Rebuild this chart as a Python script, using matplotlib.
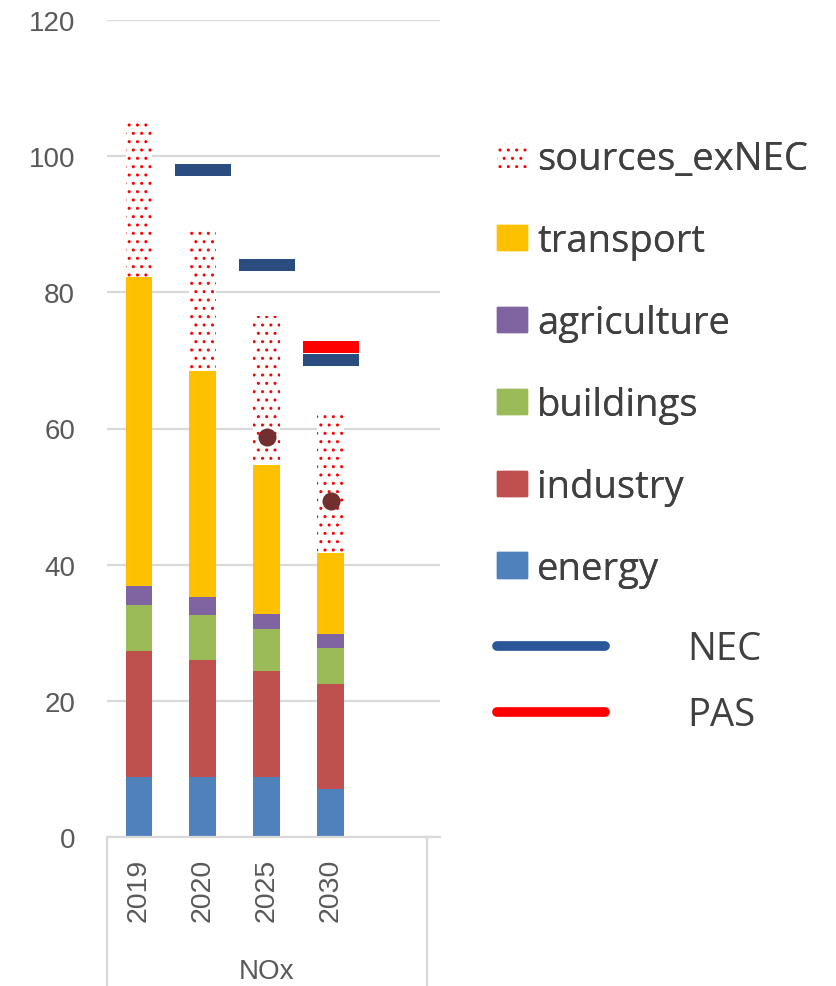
import matplotlib.pyplot as plt
from matplotlib.lines import Line2D
from matplotlib.patches import Patch
from matplotlib.path import Path
import numpy as np

years = ['2019', '2020', '2025', '2030']
energy = [8.8, 8.8, 8.8, 7.0]
industry = [18.5, 17.2, 15.6, 15.4]
buildings = [6.8, 6.6, 6.1, 5.4]
agriculture = [2.8, 2.7, 2.3, 2.0]
transport = [45.3, 33.1, 21.9, 11.9]
sources_exNEC = [22.8, 20.8, 21.8, 20.4]
nec = [np.nan, 98, 84, 70]
pas = [np.nan, np.nan, np.nan, 72]
dots = [np.nan, np.nan, 58.7, 49.3]

grey = '#595959'
grid_c = '#D9D9D9'
plt.rcParams['hatch.linewidth'] = 1.0

fig = plt.figure(figsize=(8.36, 9.87), dpi=100)
ax = fig.add_axes([107 / 836, 149 / 987, 333 / 836, 817 / 987])

x = np.arange(len(years))
w = 0.42
bottom = np.zeros(len(years))
series = [
    (energy, '#4F81BD'),
    (industry, '#C0504D'),
    (buildings, '#9BBB59'),
    (agriculture, '#8064A2'),
    (transport, '#FFC000'),
]
for vals, col in series:
    ax.bar(x, vals, w, bottom=bottom, color=col, zorder=2)
    bottom += np.array(vals)
ax.bar(x, sources_exNEC, w, bottom=bottom, facecolor='white', edgecolor='red',
       hatch='..', linewidth=0, zorder=2)

# dash markers for targets
dash = Path([(-0.5, -0.11), (0.5, -0.11), (0.5, 0.11), (-0.5, 0.11), (-0.5, -0.11)],
            [Path.MOVETO, Path.LINETO, Path.LINETO, Path.LINETO, Path.CLOSEPOLY])
ax.plot(x, nec, linestyle='none', marker=dash, markersize=40,
        color='#2B4C7E', markeredgewidth=0, zorder=4)
ax.plot(x, pas, linestyle='none', marker=dash, markersize=40,
        color='#FF0000', markeredgewidth=0, zorder=5)
ax.plot(x, dots, linestyle='none', marker='o', markersize=13,
        color='#722F2F', markeredgewidth=0, zorder=5)

ax.set_ylim(0, 120)
ax.set_xlim(-0.5, 4.71)
ax.set_yticks(range(0, 121, 20))
ax.yaxis.grid(True, color=grid_c, linewidth=1.6, zorder=0)
ax.set_axisbelow(True)
for s in ['top', 'right', 'left']:
    ax.spines[s].set_visible(False)
ax.spines['bottom'].set_color(grid_c)
ax.spines['bottom'].set_linewidth(1.6)

ax.set_xticks(x)
ax.set_xticklabels(years, rotation=90)
ax.tick_params(axis='x', length=0, pad=15, labelsize=20.5, labelcolor=grey)
ax.tick_params(axis='y', length=0, pad=23, labelsize=20, labelcolor=grey)
for lab in ax.get_xticklabels() + ax.get_yticklabels():
    lab.set_family('Liberation Sans')

# category box below the axis
tr = ax.get_xaxis_transform()
for xv in [-0.5, 4.5]:
    ax.plot([xv, xv], [0, -0.19], color=grid_c, linewidth=1.6, transform=tr, clip_on=False)
ax.text(2, -0.164, 'NOx', transform=tr, ha='center', va='center',
        fontsize=20, color=grey, family='Liberation Sans')

# legends
patch_handles = [
    Patch(facecolor='white', edgecolor='red', hatch='..', linewidth=0),
    Patch(color='#FFC000'),
    Patch(color='#8064A2'),
    Patch(color='#9BBB59'),
    Patch(color='#C0504D'),
    Patch(color='#4F81BD'),
]
patch_labels = ['sources_exNEC', 'transport', 'agriculture', 'buildings', 'industry', 'energy']
leg1 = fig.legend(patch_handles, patch_labels, loc='upper left',
                  bbox_to_anchor=(497 / 836, 1 - 141 / 987), frameon=False,
                  prop={'family': 'Open Sans', 'size': 27.5},
                  handlelength=0.79, handleheight=0.65, handletextpad=0.26,
                  labelspacing=1.15, borderpad=0, borderaxespad=0, labelcolor='#404040')

line_handles = [
    Line2D([], [], color='#2B579A', linewidth=7, solid_capstyle='round'),
    Line2D([], [], color='#FF0000', linewidth=7, solid_capstyle='round'),
]
leg2 = fig.legend(line_handles, ['NEC', 'PAS'], loc='upper left',
                  bbox_to_anchor=(497 / 836, 1 - 631 / 987), frameon=False,
                  prop={'family': 'Open Sans', 'size': 27.5},
                  handlelength=2.83, handletextpad=2.15,
                  labelspacing=0.73, borderpad=0, borderaxespad=0, labelcolor='#404040')
fig.add_artist(leg1)

plt.savefig('out.png', dpi=100)
